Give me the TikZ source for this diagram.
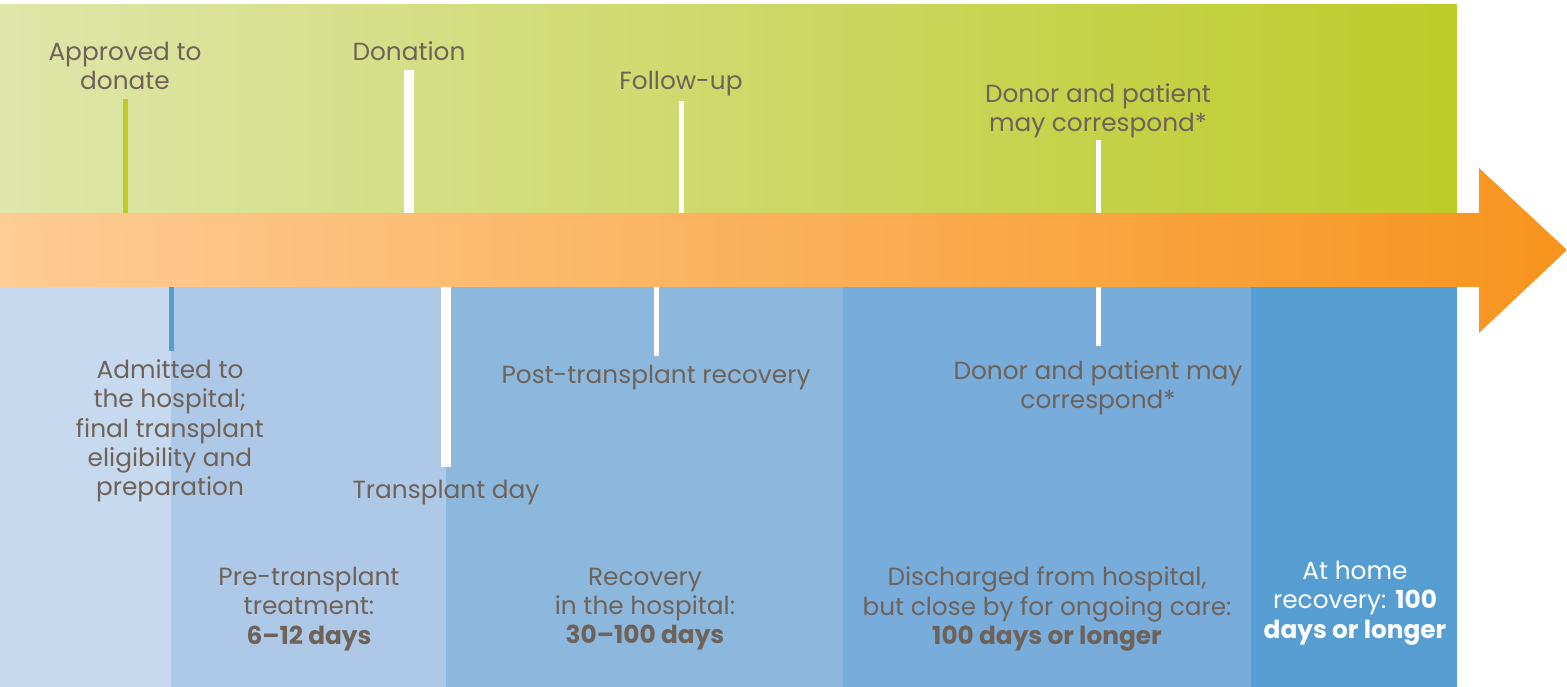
\documentclass[tikz,border=0pt]{standalone}
\usepackage{fontspec}
\setmainfont{Poppins}
\usetikzlibrary{calc}
\definecolor{txt}{HTML}{6E6259}
\definecolor{gL}{HTML}{DEE6AA}
\definecolor{gR}{HTML}{BCCC29}
\definecolor{oL}{HTML}{FECC95}
\definecolor{oR}{HTML}{F7941D}
\definecolor{b1}{HTML}{C6D9EF}
\definecolor{b2}{HTML}{AEC9E7}
\definecolor{b3}{HTML}{8DB8DE}
\definecolor{b4}{HTML}{78ACDB}
\definecolor{b5}{HTML}{569ED2}
\definecolor{tickG}{HTML}{BCCB2B}
\tikzset{
  lbl/.style={text=txt, align=center, font=\fontsize{24.8}{29.3}\selectfont, inner sep=0pt},
  lblw/.style={lbl, text=white},
  thin tick/.style={draw=white, line width=5pt},
  thick tick/.style={draw=white, line width=10pt},
}
\begin{document}
\begin{tikzpicture}[x=1pt,y=-1pt]
\useasboundingbox (0,0) rectangle (1567,687);
% green band
\shade[left color=gL, right color=gR] (0,5) rectangle (1457,214);
% blue segments
\fill[b1] (0,287) rectangle (171,687);
\fill[b2] (171,287) rectangle (446,687);
\fill[b3] (446,287) rectangle (843,687);
\fill[b4] (843,287) rectangle (1251,687);
\fill[b5] (1251,287) rectangle (1457,687);
% orange arrow
\shade[left color=oL, right color=oR] (0,213) -- (1479,213) -- (1479,168) -- (1567,250) -- (1479,333) -- (1479,287) -- (0,287) -- cycle;
% tick coordinates
\coordinate (tA0) at (125,213); \coordinate (tA1) at (125,99);
\coordinate (tD0) at (409,213); \coordinate (tD1) at (409,70);
\coordinate (tF0) at (681,213); \coordinate (tF1) at (681,101);
\coordinate (tC0) at (1098,213); \coordinate (tC1) at (1098,140);
\coordinate (bA0) at (171,287); \coordinate (bA1) at (171,351);
\coordinate (bT0) at (446,287); \coordinate (bT1) at (446,467);
\coordinate (bP0) at (656,287); \coordinate (bP1) at (656,356);
\coordinate (bC0) at (1098,287); \coordinate (bC1) at (1098,346);
\draw[draw=tickG, line width=5pt] (tA0) -- (tA1);
\draw[thick tick] (tD0) -- (tD1);
\draw[thin tick] (tF0) -- (tF1);
\draw[thin tick] (tC0) -- (tC1);
\draw[draw=b5, line width=5pt] (bA0) -- (bA1);
\draw[thick tick] (bT0) -- (bT1);
\draw[thin tick] (bP0) -- (bP1);
\draw[thin tick] (bC0) -- (bC1);
% labels
\node[lbl] (approved) at (125,66) {Approved to\\donate};
\node[lbl] (donation) at (409,51) {Donation};
\node[lbl] (follow) at (681,84) {Follow-up};
\node[lbl] (corrU) at (1098,111) {Donor and patient\\may correspond*};
\node[lbl] (admitted) at (170,431) {Admitted to\\the hospital;\\final transplant\\eligibility and\\preparation};
\node[lbl] (tday) at (446,493) {Transplant day};
\node[lbl] (post) at (656,378) {Post-transplant recovery};
\node[lbl] (corrL) at (1098,388) {Donor and patient may\\correspond*};
\node[lbl] (pre) at (309,609) {Pre-transplant\\treatment:\\\textbf{6–12 days}};
\node[lbl] (rec) at (645,609) {Recovery\\in the hospital:\\\textbf{30–100 days}};
\node[lbl] (dis) at (1047,609) {Discharged from hospital,\\but close by for ongoing care:\\\textbf{100 days or longer}};
\node[lblw] (home) at (1355,603) {At home\\recovery: \textbf{100}\\\textbf{days or longer}};
\end{tikzpicture}
\end{document}
